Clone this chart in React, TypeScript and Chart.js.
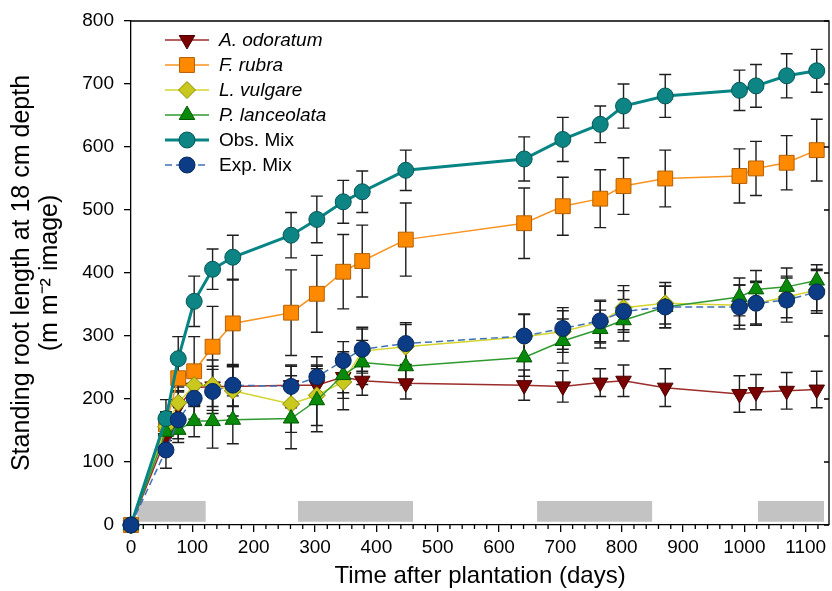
import React, { useEffect, useRef } from 'react';
import { Chart, registerables } from 'chart.js';
import { drawPoint } from 'chart.js/helpers';

Chart.register(...registerables);

// ---------- data ----------
const days = [0, 57, 77, 103, 133, 166, 261, 303, 346, 377, 448, 641, 704, 765, 803, 871, 992, 1019, 1069, 1118];

const odoratum = [0, 138, 188, 218, 220, 220, 222, 222, 235, 229, 225, 222, 220, 226, 229, 218, 208, 211, 213, 215];
const odoratumErr = [0, 20, 25, 30, 32, 32, 30, 30, 25, 23, 25, 24, 25, 22, 25, 30, 29, 28, 29, 29];

const rubra = [0, 160, 233, 244, 283, 320, 337, 367, 402, 419, 453, 479, 506, 518, 538, 550, 554, 566, 575, 595];
const rubraErr = [0, 20, 22, 55, 64, 69, 68, 61, 59, 57, 58, 56, 46, 46, 45, 45, 43, 43, 43, 49];

const vulgare = [0, 156, 194, 222, 222, 213, 192, 206, 227, 276, 283, 299, 307, 322, 345, 352, 349, 352, 362, 373];
const vulgareErr = [0, 22, 25, 30, 40, 40, 45, 48, 44, 35, 35, 35, 33, 33, 35, 33, 32, 33, 33, 33];

const lanceolata = [0, 148, 151, 165, 165, 167, 169, 198, 238, 258, 252, 266, 292, 311, 325, 346, 362, 374, 378, 388];
const lanceolataErr = [0, 20, 20, 25, 43, 38, 48, 50, 37, 35, 30, 30, 35, 30, 33, 33, 30, 30, 30, 25];

const obsMix = [0, 169, 264, 355, 406, 425, 460, 485, 513, 529, 563, 581, 612, 636, 665, 681, 690, 697, 713, 721];
const obsMixErr = [0, 30, 35, 40, 32, 35, 36, 37, 34, 33, 32, 35, 35, 29, 35, 34, 32, 34, 35, 34];

const expMix = [0, 119, 167, 201, 212, 222, 220, 235, 261, 279, 288, 300, 312, 324, 339, 346, 346, 352, 357, 370];
const expMixErr = [0, 29, 30, 33, 35, 33, 34, 32, 30, 35, 33, 35, 33, 33, 33, 33, 35, 35, 35, 34];

const xTicks = [0, 100, 200, 300, 400, 500, 600, 700, 800, 900, 1000, 1100];
const xMinorStep = 20;
const yTicks = [0, 100, 200, 300, 400, 500, 600, 700, 800];

const shadeStart = [10, 272, 662, 1022];
const shadeEnd = [122, 460, 850, 1130];
const shadeLow = 5;
const shadeHigh = 38;

const X_MAX = 1138;
const Y_MAX = 800;
const FONT = '"Liberation Sans", Arial, Helvetica, sans-serif';

type SeriesStyle = {
  label: string;
  values: number[];
  errors: number[];
  line: string;
  fill: string;
  border: string;
  lineWidth: number;
  dash: number[];
  pointStyle: string;
  radius: number;
  rotation: number;
  italic: boolean;
  order: number;
};

const series: SeriesStyle[] = [
  { label: 'A. odoratum', values: odoratum, errors: odoratumErr, line: '#9b2d2a', fill: '#7a0000', border: '#4a0000', lineWidth: 1.5, dash: [], pointStyle: 'triangle', radius: 9, rotation: 180, italic: true, order: 5 },
  { label: 'F. rubra', values: rubra, errors: rubraErr, line: '#f7931e', fill: '#ff8a00', border: '#b45f00', lineWidth: 1.5, dash: [], pointStyle: 'rect', radius: 10.5, rotation: 0, italic: true, order: 4 },
  { label: 'L. vulgare', values: vulgare, errors: vulgareErr, line: '#d4d42e', fill: '#c8c81e', border: '#8a8a00', lineWidth: 1.5, dash: [], pointStyle: 'rectRot', radius: 8.5, rotation: 0, italic: true, order: 3 },
  { label: 'P. lanceolata', values: lanceolata, errors: lanceolataErr, line: '#2f9a2f', fill: '#0a8a0a', border: '#005a00', lineWidth: 1.5, dash: [], pointStyle: 'triangle', radius: 9, rotation: 0, italic: true, order: 2 },
  { label: 'Obs. Mix', values: obsMix, errors: obsMixErr, line: '#078585', fill: '#0e8585', border: '#055555', lineWidth: 3, dash: [], pointStyle: 'circle', radius: 8, rotation: 0, italic: false, order: 1 },
  { label: 'Exp. Mix', values: expMix, errors: expMixErr, line: '#3f72b5', fill: '#0b3c85', border: '#06285c', lineWidth: 1.5, dash: [7, 4], pointStyle: 'circle', radius: 8, rotation: 0, italic: false, order: 0 },
];

// ---------- plugins ----------
const errorBarPlugin = {
  id: 'errorBars',
  beforeDatasetsDraw(chart: any) {
    const { ctx, scales } = chart;
    const x = scales.x;
    const y = scales.y;
    ctx.save();
    ctx.strokeStyle = '#1e1e1e';
    ctx.lineWidth = 1.4;
    chart.data.datasets.forEach((ds: any) => {
      const errs: number[] | undefined = ds.errorValues;
      if (!errs) return;
      ds.data.forEach((p: any, j: number) => {
        const e = errs[j];
        if (!e) return;
        const px = x.getPixelForValue(p.x);
        const top = y.getPixelForValue(p.y + e);
        const bot = y.getPixelForValue(p.y - e);
        const cap = 6;
        ctx.beginPath();
        ctx.moveTo(px, top);
        ctx.lineTo(px, bot);
        ctx.moveTo(px - cap, top);
        ctx.lineTo(px + cap, top);
        ctx.moveTo(px - cap, bot);
        ctx.lineTo(px + cap, bot);
        ctx.stroke();
      });
    });
    ctx.restore();
  },
};

const framePlugin = {
  id: 'frameTicks',
  afterDraw(chart: any) {
    const { ctx, chartArea, scales } = chart;
    const x = scales.x;
    const y = scales.y;
    ctx.save();
    ctx.strokeStyle = '#000';
    ctx.lineWidth = 1.3;
    ctx.beginPath();
    ctx.moveTo(chartArea.left, chartArea.top);
    ctx.lineTo(chartArea.right, chartArea.top);
    ctx.lineTo(chartArea.right, chartArea.bottom);
    ctx.stroke();
    ctx.beginPath();
    yTicks.forEach((v) => {
      const py = y.getPixelForValue(v);
      ctx.moveTo(chartArea.right, py);
      ctx.lineTo(chartArea.right - 5, py);
    });
    for (let v = 0; v <= X_MAX; v += xMinorStep) {
      if (v % 100 === 0) continue;
      const px = x.getPixelForValue(v);
      ctx.moveTo(px, chartArea.bottom);
      ctx.lineTo(px, chartArea.bottom + 4);
    }
    ctx.stroke();
    ctx.restore();
  },
};

const legendPlugin = {
  id: 'customLegend',
  afterDraw(chart: any) {
    const { ctx } = chart;
    ctx.save();
    const x0 = 165;
    const x1 = 209;
    const xm = 187;
    const xt = 219;
    series.forEach((s, i) => {
      const yy = 40 + i * 25;
      ctx.strokeStyle = s.line;
      ctx.lineWidth = s.lineWidth;
      ctx.setLineDash(s.dash);
      ctx.beginPath();
      ctx.moveTo(x0, yy);
      ctx.lineTo(x1, yy);
      ctx.stroke();
      ctx.setLineDash([]);
      ctx.fillStyle = s.fill;
      ctx.strokeStyle = s.border;
      ctx.lineWidth = 1;
      drawPoint(ctx, { pointStyle: s.pointStyle as any, rotation: s.rotation, radius: s.radius, borderWidth: 1 }, xm, yy);
      ctx.fillStyle = '#000';
      ctx.font = `${s.italic ? 'italic ' : ''}19px ${FONT}`;
      ctx.textBaseline = 'middle';
      ctx.textAlign = 'left';
      ctx.fillText(s.label, xt, yy + 1);
    });
    ctx.restore();
  },
};

export default function App() {
  const canvasRef = useRef<HTMLCanvasElement | null>(null);

  useEffect(() => {
    const canvas = canvasRef.current;
    if (!canvas) return;

    const shadeSets = shadeStart.map((s, i) => ({
      type: 'line' as const,
      label: '_shade' + i,
      data: [
        { x: s, y: shadeHigh },
        { x: shadeEnd[i], y: shadeHigh },
      ],
      borderWidth: 0,
      borderColor: 'rgba(0,0,0,0)',
      backgroundColor: '#c3c3c3',
      pointRadius: 0,
      fill: { value: shadeLow },
      order: 10,
    }));

    const dataSets = series.map((s) => ({
      type: 'line' as const,
      label: s.label,
      data: days.map((d, j) => ({ x: d, y: s.values[j] })),
      errorValues: s.errors,
      borderColor: s.line,
      borderWidth: s.lineWidth,
      borderDash: s.dash,
      backgroundColor: s.fill,
      pointBackgroundColor: s.fill,
      pointBorderColor: s.border,
      pointBorderWidth: 1,
      pointStyle: s.pointStyle as any,
      pointRadius: s.radius,
      pointRotation: s.rotation,
      fill: false,
      tension: 0,
      clip: false as any,
      order: s.order,
    }));

    const chart = new Chart(canvas, {
      type: 'line',
      data: { datasets: [...dataSets, ...shadeSets] as any },
      options: {
        responsive: false,
        animation: false,
        events: [],
        layout: { autoPadding: false, padding: { top: 21, right: 3, left: 0, bottom: 0 } },
        plugins: {
          legend: { display: false },
          tooltip: { enabled: false },
        },
        scales: {
          x: {
            type: 'linear',
            min: 0,
            max: X_MAX,
            afterBuildTicks: (scale: any) => {
              scale.ticks = xTicks.map((v) => ({ value: v }));
            },
            afterFit: (scale: any) => {
              scale.height = 66;
              scale.paddingLeft = 0;
              scale.paddingRight = 0;
            },
            grid: { display: true, drawOnChartArea: false, drawTicks: true, tickLength: 7, color: '#000', lineWidth: 1.3 },
            border: { display: true, color: '#000', width: 1.3 },
            ticks: { color: '#000', font: { family: FONT, size: 19 }, padding: 4, maxRotation: 0, autoSkip: false, callback: (v: any) => String(v) },
            title: { display: true, text: 'Time after plantation (days)', color: '#000', font: { family: FONT, size: 24 }, padding: { top: 0, bottom: 0 } },
          },
          y: {
            type: 'linear',
            min: 0,
            max: Y_MAX,
            afterBuildTicks: (scale: any) => {
              scale.ticks = yTicks.map((v) => ({ value: v }));
            },
            afterFit: (scale: any) => {
              scale.width = 131;
              scale.paddingTop = 0;
              scale.paddingBottom = 0;
            },
            grid: { display: true, drawOnChartArea: false, drawTicks: true, tickLength: 7, color: '#000', lineWidth: 1.3 },
            border: { display: true, color: '#000', width: 1.3 },
            ticks: { color: '#000', font: { family: FONT, size: 19 }, padding: 10, callback: (v: any) => String(v) },
            title: {
              display: true,
              text: ['Standing root length at 18 cm depth', '(m m\u207B\u00B2 image)'],
              color: '#000',
              font: { family: FONT, size: 25, lineHeight: 1.12 },
              padding: { top: 8, bottom: 0 },
            },
          },
        },
      },
      plugins: [errorBarPlugin, framePlugin, legendPlugin],
    });

    return () => chart.destroy();
  }, []);

  return (
    <div style={{ position: 'fixed', left: 0, top: 0, width: 832, height: 591, background: '#fff' }}>
      <canvas ref={canvasRef} width={832} height={591} />
    </div>
  );
}
